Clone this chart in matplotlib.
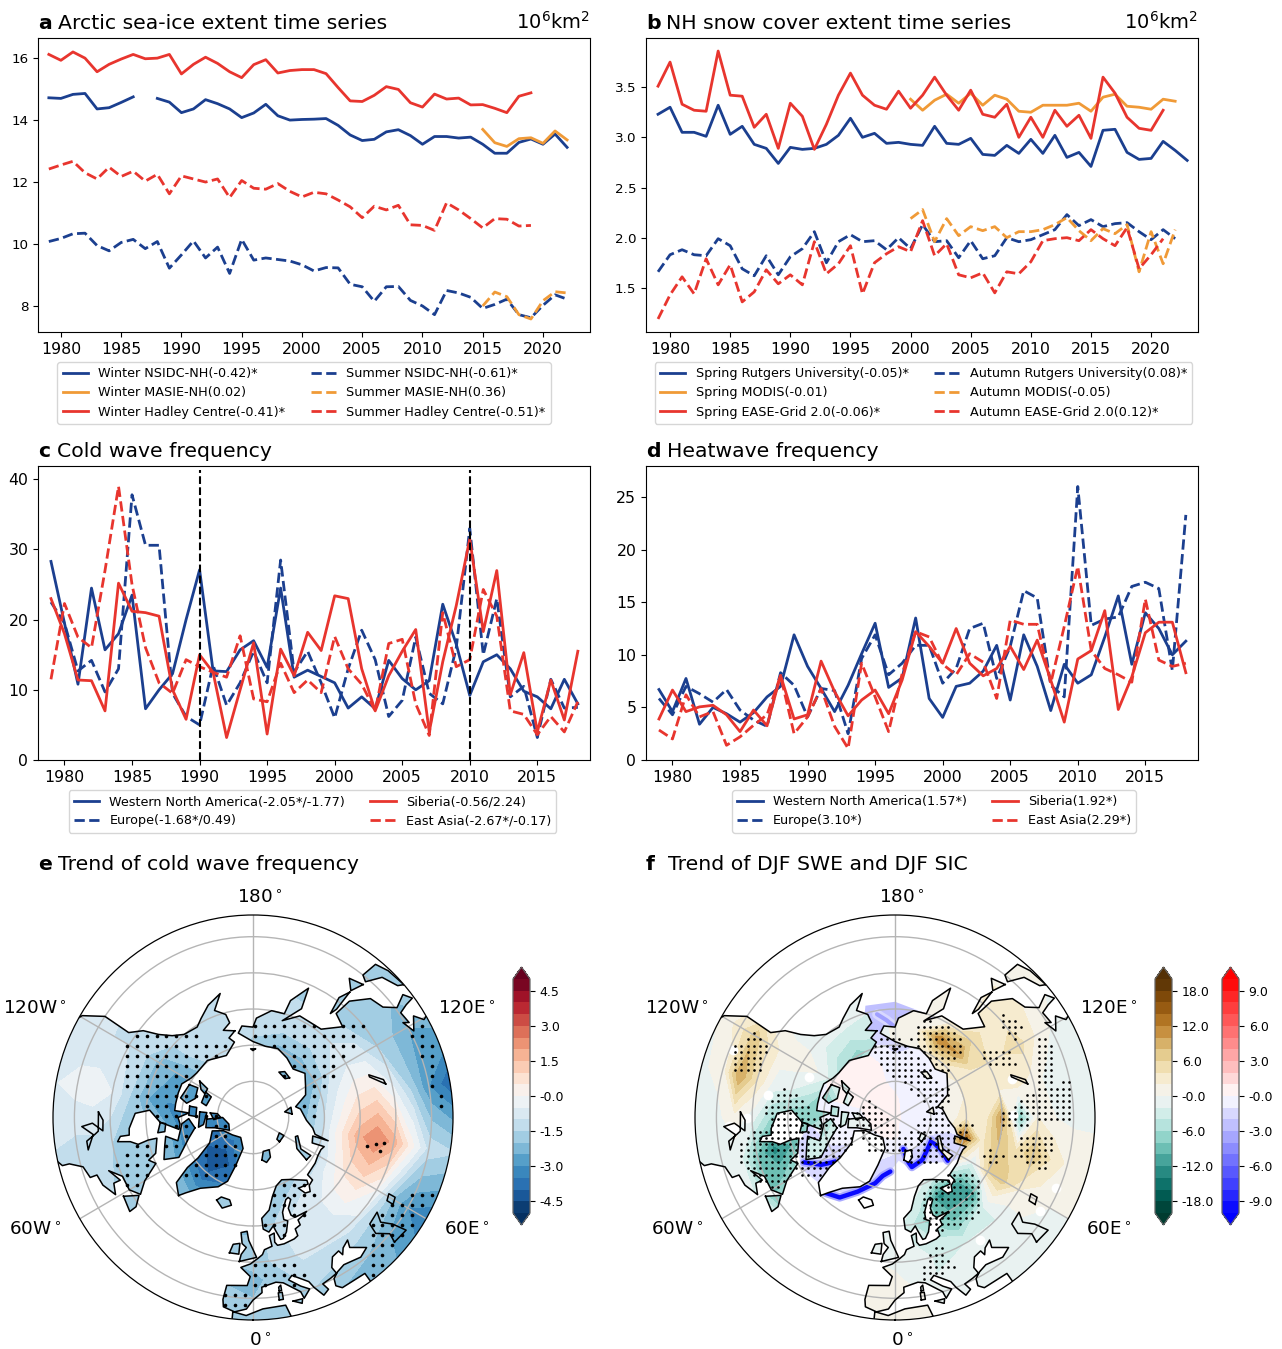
import numpy as np
import matplotlib
matplotlib.use('Agg')
import matplotlib.pyplot as plt
from matplotlib.path import Path
from matplotlib.patches import PathPatch, Wedge

W, H = 1282, 1349
BLUE, ORANGE, RED = '#1B3F8F', '#F09A37', '#E8352E'
nan = float('nan')

# ---- panel a
a_winter_nsidc = [14.72,14.70,14.83,14.86,14.36,14.40,14.57,14.75,nan,14.70,14.58,14.24,14.36,14.66,14.53,14.36,14.08,14.23,14.51,14.14,14.00,14.02,14.03,14.05,13.83,13.52,13.34,13.38,13.62,13.69,13.50,13.22,13.47,13.47,13.42,13.45,13.22,12.93,12.93,13.28,13.39,13.22,13.55,13.12]
a_winter_masie = [13.70,13.27,13.15,13.40,13.43,13.25,13.65,13.36]
a_winter_hadley = [16.12,15.93,16.20,16.00,15.56,15.80,15.97,16.12,15.98,16.00,16.12,15.49,15.80,16.03,15.83,15.56,15.37,15.79,15.95,15.52,15.60,15.63,15.63,15.50,15.05,14.62,14.60,14.80,15.08,14.99,14.56,14.42,14.84,14.68,14.71,14.49,14.50,14.38,14.24,14.77,14.88]
a_summer_nsidc = [10.08,10.18,10.33,10.35,9.95,9.78,10.05,10.15,9.85,10.08,9.22,9.65,10.10,9.55,9.90,9.05,10.15,9.48,9.55,9.50,9.45,9.33,9.13,9.24,9.23,8.70,8.62,8.15,8.62,8.63,8.18,8.00,7.72,8.50,8.42,8.28,7.92,8.05,8.22,7.72,7.62,8.02,8.36,8.22]
a_summer_masie = [8.00,8.45,8.30,7.72,7.58,8.17,8.46,8.42]
a_summer_hadley = [12.42,12.55,12.67,12.30,12.10,12.48,12.18,12.35,12.03,12.25,11.62,12.20,12.10,12.00,12.10,11.50,12.05,11.80,11.77,11.95,11.70,11.52,11.67,11.62,11.42,11.20,10.85,11.22,11.10,11.25,10.62,10.60,10.44,11.33,11.10,10.82,10.52,10.82,10.80,10.58,10.60]
# ---- panel b
b_spring_rutgers = [3.23,3.30,3.05,3.05,3.01,3.32,3.03,3.11,2.93,2.89,2.74,2.90,2.88,2.89,2.93,3.02,3.19,3.00,3.04,2.94,2.95,2.93,2.92,3.11,2.94,2.93,2.99,2.83,2.82,2.92,2.84,2.98,2.84,3.02,2.80,2.85,2.71,3.07,3.08,2.85,2.78,2.79,2.96,2.87,2.77]
b_spring_modis = [3.38,3.27,3.37,3.43,3.34,3.44,3.32,3.42,3.38,3.26,3.25,3.32,3.32,3.32,3.34,3.26,3.40,3.43,3.31,3.30,3.28,3.38,3.36]
b_spring_ease = [3.51,3.75,3.33,3.27,3.26,3.86,3.42,3.41,3.10,3.23,2.89,3.34,3.21,2.88,3.13,3.42,3.64,3.42,3.32,3.28,3.46,3.29,3.42,3.60,3.42,3.27,3.47,3.23,3.20,3.33,3.00,3.20,3.00,3.27,3.11,3.22,2.99,3.60,3.44,3.20,3.09,3.07,3.27]
b_autumn_rutgers = [1.66,1.83,1.88,1.83,1.82,1.99,1.92,1.69,1.62,1.82,1.63,1.81,1.89,2.06,1.75,1.96,2.03,1.96,1.97,1.88,2.00,1.89,2.13,1.96,1.97,1.80,1.97,1.79,1.82,2.00,1.96,1.98,2.03,2.08,2.23,2.12,2.18,2.11,2.14,2.15,2.06,1.98,2.08,1.99]
b_autumn_modis = [2.19,2.28,1.96,2.19,2.02,2.11,2.07,2.11,2.00,2.06,2.06,2.08,2.13,2.20,2.07,1.97,2.09,2.04,2.13,1.66,2.06,1.74,2.08]
b_autumn_ease = [1.19,1.43,1.61,1.44,1.79,1.53,1.73,1.36,1.46,1.68,1.54,1.63,1.53,1.96,1.64,1.74,1.92,1.44,1.75,1.84,1.91,1.86,2.17,1.82,1.94,1.63,1.60,1.65,1.45,1.66,1.64,1.76,1.97,1.99,2.00,1.97,2.08,1.99,1.92,2.10,1.69,1.83,1.99]
# ---- panel c
c_wna = [28.3,19.5,10.8,24.5,15.7,18.0,23.5,7.3,10,12.3,20,27.1,12.7,12.6,15.7,17,13.2,24.5,11.8,12.8,11.9,11.0,7.4,9.0,7.3,14.2,11.6,10,11.3,22.2,16.5,9.2,14,15,13,9.8,9.0,7.3,11.5,8.0]
c_europe = [22.5,19.5,12.7,14.2,9.7,13,37.8,30.6,30.6,9.5,6.2,5.0,13.5,7.8,11,15.5,11,28.5,12.5,15.5,11.0,6.0,13,18.5,14.3,6.2,8.5,17.5,9.5,8,16,33,15,23,9,10.5,3.2,11.5,7.4,7.5]
c_siberia = [23,18,11.4,11.3,7,25.2,21.2,21,20.5,10,5.8,15,12.5,3.2,10,16.7,3.7,15.8,12,18.2,15.6,23.4,23,13,7,12,15.5,18.6,4,14,22,31.5,18.3,27,9.3,15.3,4,11.4,5.7,15.5]
c_east_asia = [11.5,22.3,17.5,16,27,39,25,16,11,9.5,14.3,13.3,12.5,11.8,17.7,8.7,8.3,13.8,9.6,11.4,9.6,17.6,13,10.8,7,16.6,17.2,8,3.5,21,13.3,14.3,24.3,20.5,7,6.5,3.6,6.2,4,8.3]
# ---- panel d
d_wna = [6.7,4.6,7.75,3.4,5,4.4,3.6,4.5,6,7,11.9,8.9,6.8,4.6,7.1,10.1,13,6.9,7.8,13.5,5.85,4.05,7.0,7.3,8.45,10.9,5.7,11.9,8.9,4.7,9.1,7.3,8.1,11.7,15.6,9.1,14,12.5,10,11.3]
d_europe = [5.85,4.3,7,6.3,5.5,6.7,4.75,3.8,3.2,8.3,7.1,4.1,6.8,6.6,2.5,9.65,11.9,8.1,9.2,10.9,10.9,7.3,8.7,12.5,13,7.75,10.8,16.1,15.4,7.1,6,26,12.8,13.4,13.6,16.5,16.9,16.3,8.5,23.3]
d_siberia = [3.9,6.65,4.6,5.05,5.2,4.3,2.7,4.75,3.25,8.05,3.9,4.3,9.4,6.5,4.2,5.7,6.65,4.4,7.6,12.2,10.8,9.2,12.5,9.2,8,8.7,10.8,8.6,11.4,7.6,3.6,9.6,10.4,14.2,4.8,7.9,12.1,13.1,13.1,8.3]
d_east_asia = [2.85,2,6.2,4.1,4.6,1.4,2.2,3.3,4.3,8,2.5,4.1,6.8,3.2,1.1,9.2,6,2.7,8.2,12.2,11.7,9.1,8.1,10.1,9.3,5.85,13.3,12.9,12.9,7.3,12.7,18.4,10.4,8.7,8.1,7.4,15.3,9.5,8.9,9.2]

# ---- map e: cold wave trend
e_lons = [0,20,40,60,80,100,120,140,160,180,200,220,240,260,280,300,320,340,360]
e_lats = [32,40,45,50,55,60,65,70,75,80,85]
e_trend = [
 [-1.5,-2.0,-2.2,-3.5,-1.5,-4.2,-2.0,-1.5,-1,-1,-1,-0.8,-0.9,-0.6,-1.0,-1.5,-1.5,-1.5],
 [-2.0,-1.5,-2.0,-3.0,-1.2,-3.0,-2.5,-1.5,-1.5,-1,-1,-1,-0.9,-0.3,-1.2,-1.5,-1.5,-1.8],
 [-2.2,-1.2,-1.5,-2.0,0.2,-1.6,-2.0,-1.8,-1.5,-1,-1,-1,-1.0,-0.2,-1.2,-1.5,-2,-2],
 [-1.8,-0.9,-0.8,0.0,1.8,-0.3,-1.6,-1.8,-1.5,-1,-1,-1,-1.0,-0.5,-1.5,-1.5,-2,-2],
 [-1.8,-0.8,-0.5,0.8,2.5,0.8,-0.8,-1.5,-1.5,-1,-1,-1,-1.4,-1.5,-1.5,-1.8,-2,-2],
 [-2.2,-1.0,-0.5,0.6,1.8,0.6,-0.6,-1.2,-1.2,-1,-1,-1,-2.2,-2.5,-1.8,-2,-2.0,-2.0],
 [-2.0,-1.5,-0.8,-0.3,0.4,-0.2,-1,-1.5,-1.5,-1.2,-1,-1,-2.5,-3.0,-2.2,-2.5,-3,-1.5],
 [-2,-2,-1.5,-1.5,-1,-1.2,-2,-2.2,-2.2,-1.8,-1.2,-1.5,-2.5,-3,-3.2,-3.4,-4.0,-3.5],
 [-2,-2,-2,-2,-2,-2.2,-2.3,-2.3,-2.3,-2,-2,-2,-2.5,-3.2,-3.4,-4.0,-4.5,-3.8],
 [-2,-2,-2,-2,-2,-2.2,-2.3,-2.3,-2.3,-2.3,-2.3,-2.3,-2.8,-3.2,-3.5,-3.5,-3.8,-3],
 [-3,-3,-3,-3,-3,-3,-3,-3,-3,-3,-3,-3,-3,-3,-3,-3,-3,-3],
]
# ---- map f: SWE trend
f_lons = [0,15,30,45,60,75,90,105,120,135,150,165,180,195,210,225,240,255,270,285,300,315,330,345,360]
f_lats = [32,40,45,50,55,60,65,70,75,80,85]
f_swe = [
 [1,0,-.5,-1,0,1,-.5,-.5,0,0,0,0,0,0,0,0,-.5,-.5,-.5,-.5,-.5,0,0,1],
 [1,-.5,-.8,-1,0,1.5,-.5,-.5,0,1,0,0,0,0,0,0,3,.5,-.5,-.5,-.5,0,0,1],
 [.5,-2,-1,-1,1,4,0,-1,2,4,1,0,0,0,0,0,7,10,1,-1,-2,0,0,.5],
 [-.5,-2,-2,-2,2,8,2,1,5,3,1,0,0,-1,-1,-1,3,4,-1,-8,-9,-5,0,0],
 [-1,-3,-7,-2,7,4,-8,3,4,3,1,0,0,-1,-1,-1,1,-1,-6,-13,-7,-3,0,0],
 [-.5,-6,-10,-13,6,8,11,2,4,6,2,1,0,-2,-1,-1,1,-2,-8,-10,-3,-1,0,0],
 [0,-3,-13,-10,-2,3,2,3,3,10,12,2,1,-3,-4,-3,0,-4,-8,-4,-2,0,0,0],
 [0,-1,-3,-2,6,14,3,2,2,3,4,1,1,-5,-7,-6,-3,-8,-6,-4,-2,0,0,0],
 [0,0,0,0,1,2,1,1,1,1,1,0,0,-2,-2,-2,-2,-3,-3,-3,-2,0,0,0],
 [0]*24,
 [0]*24,
]
sic_lons = [0,30,60,90,120,150,180,210,240,270,300,330,360]
sic_lats = [55,60,65,70,75,80,85,90]
f_sic = [
 [-1,-1,-1,-1,-1,-1,-2.5,-2,-1,-1,-1.5,-1],
 [-1,-1,-1,-1,-1,-1,-2.5,-2,-1,-1,-1.5,-1],
 [-1,-1,-1,-1,-1,-1,-2.5,-1.5,-1,-1,-1.5,-1],
 [-1,-1.5,-1.5,-.5,-.5,-.5,-1.5,.3,.5,-.5,-1.2,-1],
 [-1.5,-1.5,-1.5,-.5,-.5,-.5,-.5,.5,.5,-.5,-1,-1],
 [-1,-1,-1,-.8,-.8,-.5,-.3,.3,.3,-.3,-.5,-.8],
 [.3,-.5,-.6,-.6,-.5,-.3,.2,.5,.5,.5,.3,.3],
 [.3]*12,
]

# ---- geography (lon, lat)
north_america = [(-168,65.5),(-163,67),(-166,68.5),(-156.5,71.3),(-141,69.7),(-128,70),(-122,69.5),(-115,68),(-108,68),(-100,68),(-95,68),(-94,72),(-90,69),(-85,69.5),(-81,69),(-85,66),(-87,64),(-94,61),(-92,57),(-85,55.2),(-82,55),(-82,52.5),(-80,51.5),(-79,55),(-77,57),(-78,60),(-78,62.5),(-70,61),(-68,58.5),(-65,60),(-60,55),(-56,52),(-60,50),(-66,50),(-70,47),(-65,49),(-65,47),(-61,46),(-66,44),(-70,43.5),(-70,41.5),(-74,40.5),(-76,37),(-76,35),(-78,33.5),(-81,32),(-81,28),(-90,28),(-100,28),(-110,28),(-115,30),(-117,32.5),(-120.5,34.5),(-124,40),(-124,48),(-128,51),(-131,55),(-135,58),(-140,60),(-148,60.5),(-152,59),(-158,56.5),(-165,54.5),(-160,58.5),(-165,60.5),(-166,63),(-161,64.5),(-168,65.5)]
eurasia = [(-5.5,36),(-9,37),(-9.5,39),(-9,43),(-2,43.5),(-1,46),(-4.7,48.4),(-1,49.5),(2,51),(4,52),(5,53.3),(8.5,54),(8,57),(10.5,57.5),(10,55),(11,54),(14,54),(19,54.5),(21,55),(21,57),(24,57.5),(24,59),(28,59.6),(30,60),(23,60),(21.5,61),(21.5,63),(25,65),(24,65.8),(22,65.5),(17.5,62.5),(17,60.5),(18.8,59.8),(16.5,57),(14.3,55.5),(13,55.4),(11.5,58),(10.7,59.5),(8,58),(5.3,59),(5,62),(10,64),(14,67.5),(19,70),(25,71),(31,70),(41,67),(40,66),(35,66.5),(33,66.7),(35,64.5),(38,64),(40,65.5),(44,66),(44,68),(54,68.5),(60,69),(65,69),(68,68.5),(67,72),(73,72.5),(73,68),(75,72),(80,73),(87,75),(100,76.5),(104,77.7),(113,74),(120,73),(130,71),(140,72.5),(150,71),(160,69.7),(170,70),(180,69),(190,66.3),(187,64.5),(180,65),(178,62.5),(170,60),(163,60),(162,56),(156.5,51),(155.7,57),(163,62),(155,59),(142,59),(135,54.5),(141,53),(140,48),(135,43.5),(130,42.5),(127,39.5),(129,36),(126.5,34.5),(126,37),(125,39.5),(121,39),(122,40.5),(118,39),(122,37),(119.5,35),(120,34),(120,28),(105,28),(90,28),(75,28),(60,28),(45,28),(36,28),(36,34),(36,36.7),(28,36.7),(26.5,38),(27,40),(29,41.2),(32,42),(38,41),(41.5,42),(37,45),(38,47),(35,46),(33.5,44.5),(33,46),(30,45.5),(28,43),(28.5,41),(26,40.5),(23,40),(24,38),(22,37),(20,40),(19,42),(14,45),(12.5,44),(16,41.5),(18.5,40),(16,38),(15.5,40),(10.5,43.5),(8,44),(3,43),(3,41.5),(0,39.5),(-2,37),(-5.5,36)]
africa = [(-6,36),(-2,35.2),(3,37),(10,37.3),(11,34),(11,28),(-6,28),(-6,36)]
greenland = [(-44,60),(-50,62),(-53,67),(-54,71),(-60,76),(-72,78),(-66,81),(-50,82.5),(-32,83.5),(-18,81),(-20,76),(-22,71),(-27,68.5),(-37,65.5),(-42,62),(-44,60)]
baffin = [(-80,73.5),(-72,71),(-62,66.5),(-65,62.5),(-72,64),(-78,65),(-73,68),(-85,70),(-89,72),(-80,73.5)]
victoria = [(-117,70),(-105,69),(-102,71),(-108,73),(-118,72.5),(-117,70)]
banks = [(-124,72),(-118,73.5),(-116,75),(-122,75),(-124,72)]
ellesmere = [(-88,77),(-78,76.5),(-75,79),(-62,82.5),(-75,83),(-90,81.5),(-88,77)]
devon = [(-96,75),(-80,74.5),(-82,76),(-96,77),(-96,75)]
melville = [(-118,75),(-106,75),(-104,76.5),(-116,77),(-118,75)]
axel = [(-96,78),(-87,79),(-90,81),(-96,80),(-96,78)]
somerset = [(-100,72),(-92,72),(-91,74),(-100,74),(-100,72)]
southampton = [(-87,64),(-81,63),(-81,65),(-86,65.5),(-87,64)]
newfoundland = [(-59,47.7),(-53,46.8),(-53,49),(-56,51.5),(-59,47.7)]
iceland = [(-24,65),(-19,63.5),(-14,65),(-16,66.3),(-22,66.3),(-24,65)]
britain = [(-5.5,50),(1.5,51.3),(0,53.5),(-2,56),(-3,58.5),(-6,58),(-5,55),(-3,54),(-5,52),(-5.5,50)]
ireland = [(-10,52),(-6,52),(-6,55),(-9,54.5),(-10,52)]
svalbard = [(12,78),(17,77),(24,78),(27,80),(17,80.2),(12,78)]
novaya = [(52,71),(57,70.7),(57,74),(68,76.5),(66,77),(55,75),(52,71)]
severnaya = [(95,79),(105,79),(100,81),(95,79)]
franz = [(48,80),(60,80),(60,81.5),(48,81),(48,80)]
nsiberian = [(137,75),(145,74.5),(150,75.5),(140,76),(137,75)]
wrangel = [(178,71),(182,71),(180,71.5),(178,71)]
sakhalin = [(142,46),(144,49),(143,54),(142,52),(142,46)]
hokkaido = [(140,42),(145,43),(142,45.5),(140,42)]
honshu = [(131,34),(137,34.5),(141,35.5),(142,40),(140,41),(137,37),(132,35.5),(131,34)]
sicily = [(12.5,38),(15.5,38),(15,36.8),(12.5,38)]
sardinia = [(8.3,39),(9.6,39),(9.6,41),(8.3,41),(8.3,39)]
corsica = [(8.7,41.5),(9.5,41.5),(9.5,43),(8.7,42.5),(8.7,41.5)]
caspian = [(49,37.5),(54,37),(53,41),(51,44),(53,46.5),(48,46),(47,43),(50,40),(49,37.5)]
aral = [(58.5,44),(61,44.5),(61,46.5),(58.5,46),(58.5,44)]
great_lakes = [(-92,46.7),(-85,46.5),(-84,45.5),(-82,43),(-79,43),(-84,45),(-87,42),(-88,45),(-85,47.8),(-89,48),(-92,46.7)]
baikal = [(104,51.7),(106,52),(110,55.5),(109,55.5),(104,51.7)]

land_all = [north_america, eurasia, africa, greenland, baffin, victoria, banks, ellesmere, devon, melville, axel, somerset, southampton, newfoundland, iceland, britain, ireland, svalbard, novaya, severnaya, franz, nsiberian, wrangel, sakhalin, hokkaido, honshu, sicily, sardinia, corsica]
inland_outlines = [caspian, aral, great_lakes, baikal]

sic_domain = [(33,75),(52,70),(70,65),(100,65),(130,65),(160,60),(180,58),(195,58),(200,64),(215,65),(240,66),(265,68),(280,64),(285,62),(298,60),(310,62),(318,62),(333,67),(345,71),(355,75),(5,78),(19,74.5),(33,75)]
edge_barents = [(15,81),(17,77),(19,75.5),(33,76),(48,77.5),(58,78),(55,74),(51,71)]
edge_egreenland = [(-43,61.5),(-35,63),(-27,67),(-17,71),(-12,73.5),(-5,75)]
edge_labrador = [(-64,61.7),(-57.6,65.6),(-53,70)]
edge_bering = [(-170,61),(-175,63),(180,65)]

e_stipple = [
 [(-118,48.5),(-125,50),(-135,58),(-145,62),(-165,68),(-160,72),(-130,75),(-100,78),(-60,84),(-15,84),(-18,70),(-60,58),(-62,67),(-80,60),(-90,62),(-95,56),(-105,53),(-111,51)],
 [(-78,62),(-65,62),(-55,54),(-60,50),(-68,48),(-74,50),(-78,55)],
 [(90,72),(105,70),(115,66),(120,62),(123,54),(131,49),(135,53),(150,60),(170,62),(180,65),(180,72),(140,78),(100,80)],
 [(5,60),(12,55),(25,58),(38,62),(42,66),(35,70),(20,72),(10,66)],
 [(-1,50),(14,50),(20,45),(12,41),(0,41),(-5,43)],
 [(-10,44),(0,44),(0,37),(-10,36)],
 [(36,34),(36,38),(43,43),(52,47),(62,42),(68,38),(68,34)],
 [(83,34),(88,36),(97,39),(104,40),(115,41),(122,38),(120,34)],
]
e_extra_dots = [(78,54.7),(79,52.7),(75.5,53.3),(76,57)]
f_stipple = [
 [(155,72),(180,66),(200,68),(195,76),(170,80),(120,82),(110,76),(130,74)],
 [(-129,81),(-90,78),(-40,78),(10,80),(30,84),(-60,88)],
 [(95,80),(130,76),(120,72),(90,76),(70,72),(55,72),(40,72),(20,75),(10,82),(60,85)],
 [(-90,72),(-60,78),(-55,70),(-52,62),(-62,58),(-78,60),(-88,62)],
 [(-105,58),(-100,66),(-85,68),(-75,62),(-85,55),(-95,53)],
 [(-85,50),(-85,58),(-70,63),(-62,58),(-58,52),(-65,47),(-75,44),(-80,45)],
 [(-122,44),(-118,50),(-108,50),(-105,42),(-112,40)],
 [(130,72),(170,68),(165,62),(150,60),(135,62)],
 [(122,53),(128,60),(118,60),(113,53)],
 [(125,46),(135,48),(132,52),(122,50)],
 [(100,45),(116,41),(120,45),(100,50)],
 [(88,40),(102,40),(100,55),(90,55)],
 [(72,68),(85,68),(83,72),(72,72)],
 [(85,52),(95,54),(95,60),(85,60)],
 [(70,45),(85,45),(82,55),(72,55)],
 [(65,58),(72,58),(72,63),(65,63)],
 [(15,60),(20,56),(40,54),(56,60),(50,68),(30,70),(18,68)],
 [(8,44),(22,45),(20,52),(14,52)],
]
f_white_spots = [(-86,45),(-90,48.5),(-87,43.5),(-115,63.5),(-100,54),(-112.5,41),(108,55.5),(91,57),(66.6,41),(57.6,42),(35,48.5)]

fig = plt.figure(figsize=(W/100, H/100), dpi=100)

def add_axes_px(x0, y0, x1, y1, **kw):
    return fig.add_axes([x0/W, 1-y1/H, (x1-x0)/W, (y1-y0)/H], **kw)

def title(x_letter, x_text, y, letter, text, fs=14.7):
    fig.text(x_letter/W, 1-y/H, letter, fontsize=fs, fontweight='bold', ha='left', va='baseline')
    fig.text(x_text/W, 1-y/H, text, fontsize=fs, ha='left', va='baseline')

def series(ax, start, vals, color, ls, label):
    ax.plot(start+np.arange(len(vals)), vals, color=color, ls=ls, lw=2, label=label)

def legend(ax, cx, top, ncol=2):
    ax.legend(loc='upper center', bbox_to_anchor=(cx/W, 1-top/H), bbox_transform=fig.transFigure,
              ncol=ncol, fontsize=9.15, borderaxespad=0, handlelength=2.0)

# a
ax = add_axes_px(38, 38, 590, 332)
series(ax,1979,a_winter_nsidc,BLUE,'-','Winter NSIDC-NH(-0.42)*')
series(ax,2015,a_winter_masie,ORANGE,'-','Winter MASIE-NH(0.02)')
series(ax,1979,a_winter_hadley,RED,'-','Winter Hadley Centre(-0.41)*')
series(ax,1979,a_summer_nsidc,BLUE,'--','Summer NSIDC-NH(-0.61)*')
series(ax,2015,a_summer_masie,ORANGE,'--','Summer MASIE-NH(0.36)')
series(ax,1979,a_summer_hadley,RED,'--','Summer Hadley Centre(-0.51)*')
ax.set_xlim(1978.1,2023.9); ax.set_ylim(7.16,16.65)
ax.set_xticks(range(1980,2021,5)); ax.set_yticks([8,10,12,14,16])
ax.tick_params(axis='x',labelsize=11.3); ax.tick_params(axis='y',labelsize=9.7)
legend(ax,304,362)
title(38,58,29,'a','Arctic sea-ice extent time series')
fig.text(590/W,1-29/H,r'$\mathregular{10^6km^2}$',fontsize=14,ha='right',va='baseline')

# b
ax = add_axes_px(646, 38, 1198, 332)
series(ax,1979,b_spring_rutgers,BLUE,'-','Spring Rutgers University(-0.05)*')
series(ax,2000,b_spring_modis,ORANGE,'-','Spring MODIS(-0.01)')
series(ax,1979,b_spring_ease,RED,'-','Spring EASE-Grid 2.0(-0.06)*')
series(ax,1979,b_autumn_rutgers,BLUE,'--','Autumn Rutgers University(0.08)*')
series(ax,2000,b_autumn_modis,ORANGE,'--','Autumn MODIS(-0.05)')
series(ax,1979,b_autumn_ease,RED,'--','Autumn EASE-Grid 2.0(0.12)*')
ax.set_xlim(1978.0,2023.9); ax.set_ylim(1.06,3.99)
ax.set_xticks(range(1980,2021,5)); ax.set_yticks([1.5,2,2.5,3,3.5])
ax.tick_params(axis='x',labelsize=11.3); ax.tick_params(axis='y',labelsize=9.7)
legend(ax,923.5,362)
title(646,666,29,'b','NH snow cover extent time series')
fig.text(1198/W,1-29/H,r'$\mathregular{10^6km^2}$',fontsize=14,ha='right',va='baseline')

# c
ax = add_axes_px(38, 466, 590, 760)
series(ax,1979,c_wna,BLUE,'-','Western North America(-2.05*/-1.77)')
series(ax,1979,c_europe,BLUE,'--','Europe(-1.68*/0.49)')
series(ax,1979,c_siberia,RED,'-','Siberia(-0.56/2.24)')
series(ax,1979,c_east_asia,RED,'--','East Asia(-2.67*/-0.17)')
for yr in (1990,2010):
    ax.plot([yr,yr],[0,41.4],color='k',ls='--',lw=1.5)
ax.set_xlim(1978.04,2018.9); ax.set_ylim(0,41.9)
ax.set_xticks(range(1980,2016,5)); ax.set_yticks([0,10,20,30,40])
ax.tick_params(labelsize=11.3)
legend(ax,312.5,790)
title(38,57,457,'c','Cold wave frequency')

# d
ax = add_axes_px(646, 466, 1198, 760)
series(ax,1979,d_wna,BLUE,'-','Western North America(1.57*)')
series(ax,1979,d_europe,BLUE,'--','Europe(3.10*)')
series(ax,1979,d_siberia,RED,'-','Siberia(1.92*)')
series(ax,1979,d_east_asia,RED,'--','East Asia(2.29*)')
ax.set_xlim(1978.04,2018.9); ax.set_ylim(0,27.95)
ax.set_xticks(range(1980,2016,5)); ax.set_yticks([0,5,10,15,20,25])
ax.tick_params(labelsize=11.3)
legend(ax,934,790)
title(646,667,457,'d','Heatwave frequency')

# ---- maps
RMAX = 56.0
def tr(pts):
    a = np.array(pts, float)
    return np.deg2rad(a[:,0]), 90-a[:,1]
def to_xy(pts):
    th, r = tr(pts)
    return np.column_stack([r*np.sin(th), -r*np.cos(th)])
def poly_path(pts):
    th, r = tr(pts)
    return Path(np.column_stack([th,r]))

def make_map(x0,y0,x1,y1):
    ax = add_axes_px(x0,y0,x1,y1,projection='polar')
    ax.set_aspect('auto')
    ax.set_theta_zero_location('S'); ax.set_theta_direction(1)
    ax.set_thetagrids([0,60,120,180,240,300], labels=['']*6)
    ax.set_rgrids([10,20,30,40,50], labels=['']*5)
    ax.grid(True,color='#b5b5b5',lw=1)
    ax.set_axisbelow(False)
    ax.tick_params(length=0)
    ax.spines['polar'].set_linewidth(0.9)
    ax.spines['polar'].set_zorder(7)
    # white ring hides field pieces that pass beyond the map edge
    ax.add_patch(Wedge((.5,.5),.58,0,360,width=.08,transform=ax.transAxes,fc='white',ec='none',clip_on=False,zorder=6))
    return ax

def clipped_contourf(ax, lons, lats, table, levels, cmap, polys, zorder, wrap=True):
    z = np.array(table, float)
    if wrap:
        z = np.column_stack([z, z[:,0]])
    T, R = np.meshgrid(np.deg2rad(lons), 90-np.array(lats,float))
    cs = ax.contourf(T, R, z, levels=levels, cmap=cmap, extend='both', zorder=zorder)
    clip = Path.make_compound_path(*[poly_path(p) for p in polys])
    patch = PathPatch(clip, transform=ax.transData, fc='none', ec='none')
    ax.add_patch(patch)
    cs.set_clip_path(patch)
    return cs

def coast(ax, polys):
    for p in polys:
        th, r = tr(p)
        ax.plot(th, r, color='k', lw=1.1, zorder=4)

def stipple(ax, polys, step, ms, land=None):
    g = np.arange(-60, 60, step)
    gx, gy = np.meshgrid(g, g*1.0)
    pts = np.column_stack([gx.ravel(), gy.ravel()])
    keep = np.zeros(len(pts), bool)
    for p in polys:
        keep |= Path(to_xy(p)).contains_points(pts)
    if land is not None:
        inland = np.zeros(len(pts), bool)
        for p in land:
            inland |= Path(to_xy(p)).contains_points(pts)
        keep &= inland
    keep &= np.hypot(pts[:,0],pts[:,1]) < RMAX-0.5
    pts = pts[keep]
    ax.plot(np.arctan2(pts[:,0], -pts[:,1]), np.hypot(pts[:,0], pts[:,1]), ls='none', marker='o', ms=ms, color='k', mew=0, zorder=5)

def lon_labels(cx):
    items = [(cx+7,898,'180$^\\circ$'),(cx+7,1341,'0$^\\circ$'),(cx-218,1009,'120W$^\\circ$'),(cx+214,1009,'120E$^\\circ$'),(cx-218,1230,'60W$^\\circ$'),(cx+214,1230,'60E$^\\circ$')]
    for x,y,s in items:
        fig.text(x/W,1-y/H,s,fontsize=13.2,ha='center',va='center')

def cbar(cs, x0, x1, ticks, labels):
    cax = add_axes_px(x0, 967, x1, 1225)
    cb = fig.colorbar(cs, cax=cax, ticks=ticks, extendfrac=0.0513)
    cb.ax.set_yticklabels(labels, fontsize=9)
    cb.outline.set_edgecolor('#666666'); cb.outline.set_linewidth(0.9)
    cb.ax.tick_params(length=3.5, width=0.8)
    return cb

# e
ax = make_map(53,915,453,1320)
cs = clipped_contourf(ax,e_lons,e_lats,e_trend,np.arange(-5,5.01,.5),'RdBu_r',land_all,1)
coast(ax,land_all+inland_outlines)
stipple(ax,e_stipple,2.75,2.6,land_all)
dth,dr = tr(e_extra_dots)
ax.plot(dth,dr,ls='none',marker='o',ms=2.6,color='k',mew=0,zorder=5)
ax.set_rlim(0,RMAX)
lon_labels(253)
cbar(cs,513,530,[-4.5,-3,-1.5,0,1.5,3,4.5],['-4.5','-3.0','-1.5','-0.0','1.5','3.0','4.5'])
title(38,58,870,'e','Trend of cold wave frequency')

# f
ax = make_map(695,915,1095,1320)
cs_sic = clipped_contourf(ax,sic_lons,sic_lats,f_sic,np.arange(-10,10.01,1),'bwr',[sic_domain],1)
for pts in (edge_barents, edge_egreenland, edge_labrador, edge_bering):
    th,r = tr(pts)
    wide, core = (6,'#a9a9ff'), (3.2,'#0a0aff')
    if pts is edge_bering:
        wide, core = (7,'#d8d8ff'), (3,'#a0a0ff')
    ax.plot(th,r,color=wide[1],lw=wide[0],zorder=1.1,solid_capstyle='round')
    ax.plot(th,r,color=core[1],lw=core[0],zorder=1.15,solid_capstyle='round')
for p in land_all:
    ax.add_patch(PathPatch(poly_path(p),transform=ax.transData,fc='white',ec='none',zorder=1.2))
swe_land = [p for p in land_all if p is not greenland and p is not iceland and p is not svalbard]
cs_swe = clipped_contourf(ax,f_lons,f_lats,f_swe,np.arange(-20,20.01,2),'BrBG_r',swe_land,1.5)
sth,sr = tr(f_white_spots)
ax.plot(sth,sr,ls='none',marker='o',ms=7,color='white',mew=0,zorder=1.6)
coast(ax,land_all+inland_outlines)
stipple(ax,f_stipple,1.7,1.9)
ax.set_rlim(0,RMAX)
lon_labels(895)
cbar(cs_swe,1155,1172,[-18,-12,-6,0,6,12,18],['-18.0','-12.0','-6.0','-0.0','6.0','12.0','18.0'])
cbar(cs_sic,1222,1239,[-9,-6,-3,0,3,6,9],['-9.0','-6.0','-3.0','-0.0','3.0','6.0','9.0'])
title(646,668,870,'f','Trend of DJF SWE and DJF SIC')

fig.savefig('out.png',dpi=100)
